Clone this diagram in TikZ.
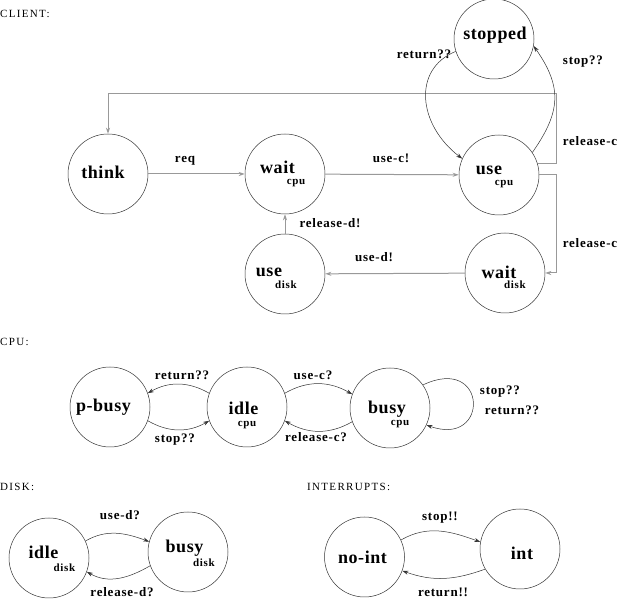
\documentclass[tikz,border=0pt]{standalone}
\usepackage{fontspec}
\setmainfont{Liberation Serif}
\newfontfamily\xf[LetterSpace=6]{Liberation Serif}
\newfontfamily\xb[LetterSpace=3]{Liberation Serif}
\newfontfamily\xh[LetterSpace=12]{Liberation Serif}
\usepackage{tikz}
\usetikzlibrary{arrows.meta, positioning}
\tikzset{%
	state/.style={
		circle,
		draw=black!80,
		line width=0.5pt,
		minimum size=80pt,
		inner sep=0pt
	},
	big/.style={font=\xb\bfseries\fontsize{18}{18}\selectfont, inner sep=0pt},
	sub/.style={font=\xf\bfseries\fontsize{11}{11}\selectfont, inner sep=0pt},
	lbl/.style={font=\xf\bfseries\fontsize{13}{13}\selectfont, inner sep=0pt},
	head/.style={font=\xh\fontsize{11}{11}\selectfont, anchor=west, inner sep=0pt},
	conn/.style={draw=black!40, line width=1pt, -{Stealth[length=6pt,width=4pt]}},
	arc/.style={draw=black!80, line width=0.5pt, -{Stealth[length=6pt,width=4pt]}},
}

\begin{document}
\begin{tikzpicture}[x=1pt, y=1pt]
	\useasboundingbox (0,0) rectangle (619,599);

	% CLIENT
	\node[head] (hclient) at (0,585) {CLIENT:};
	\node[state, label={[big,xshift=-5pt,yshift=2pt]center:think}] (think) at (108,425) {};
	\node[state, label={[big,xshift=-7.5pt,yshift=7pt]center:wait}, label={[sub,xshift=11pt,yshift=-9pt]center:cpu}] (waitc) at (285,425) {};
	\node[state, label={[big,xshift=-10pt,yshift=5pt]center:use}, label={[sub,xshift=5pt,yshift=-9pt]center:cpu}] (usec) at (499,424) {};
	\node[state, label={[big,xshift=1pt,yshift=4pt]center:stopped}] (stopped) at (494,560) {};
	\node[state, label={[big,xshift=-6pt,yshift=1pt]center:wait}, label={[sub,xshift=10pt,yshift=-12pt]center:disk}] (waitd) at (505,326) {};
	\node[state, label={[big,xshift=-16pt,yshift=2pt]center:use}, label={[sub,xshift=1pt,yshift=-11pt]center:disk}] (usd) at (285,325) {};

	\coordinate (top) at (556,505);
	\coordinate (side) at (556,326);

	\draw[conn] (think) -- (waitc);
	\draw[conn] (waitc) -- (usec);
	\draw[conn] (usec.16) -| (top) -| (think.north);
	\draw[conn] (usec.east) -| (side) -- (waitd.east);
	\draw[conn] (waitd) -- (usd);
	\draw[conn] (usd) -- (waitc);
	\draw[arc] (usec.34) to[out=55, in=-55, looseness=1.2] (stopped.-10);
	\draw[arc] (stopped.198) .. controls (412,530) and (418,474) .. (usec.156);

	\node[lbl] (lreq) at (185,438) {req};
	\node[lbl] (lusec) at (391,441) {use-c!};
	\node[lbl] (lrelc1) at (590,458) {release-c};
	\node[lbl] (lrelc2) at (590,356) {release-c};
	\node[lbl] (lreld) at (330,376) {release-d!};
	\node[lbl] (lused) at (374,342) {use-d!};
	\node[lbl] (lstop) at (583,537) {stop??};
	\node[lbl] (lret) at (424,545) {return??};

	% CPU
	\node[head] (hcpu) at (0,257) {CPU:};
	\node[state, label={[big,xshift=-6.5pt]center:p-busy}] (pbusy) at (110,192) {};
	\node[state, label={[big,xshift=-3.5pt,yshift=-1pt]center:idle}, label={[sub,yshift=-18pt]center:cpu}] (idlec) at (247,192) {};
	\node[state, label={[big,xshift=-3pt,yshift=-1pt]center:busy}, label={[sub,xshift=10pt,yshift=-16pt]center:cpu}] (busyc) at (390,191) {};

	\draw[arc] (idlec.160) to[out=150, in=30] (pbusy.20);
	\draw[arc] (pbusy.-20) to[out=-30, in=-150] (idlec.-160);
	\draw[arc] (idlec.20) to[out=30, in=150] (busyc.160);
	\draw[arc] (busyc.-160) to[out=-150, in=-30] (idlec.-20);
	\draw[arc] (busyc.35) .. controls (488,245) and (490,151) .. (busyc.-25);

	\node[lbl] (lret2) at (182,224) {return??};
	\node[lbl] (lstop2) at (175,159) {stop??};
	\node[lbl] (lusec2) at (313,224) {use-c?};
	\node[lbl] (lrelc3) at (316,162) {release-c?};
	\node[lbl] (lstop3) at (500,207) {stop??};
	\node[lbl] (lret3) at (512,189) {return??};

	% DISK
	\node[head] (hdisk) at (0,112) {DISK:};
	\node[state, label={[big,xshift=-5.5pt,yshift=6pt]center:idle}, label={[sub,xshift=15.5pt,yshift=-10pt]center:disk}] (idled) at (49,41) {};
	\node[state, label={[big,xshift=-3.5pt,yshift=4pt]center:busy}, label={[sub,xshift=16pt,yshift=-11pt]center:disk}] (busyd) at (188,47) {};

	\draw[arc] (idled.25) to[out=30, in=160] (busyd.165);
	\draw[arc] (busyd.-160) to[out=-150, in=-30] (idled.-20);

	\node[lbl] (lused2) at (120,84) {use-d?};
	\node[lbl] (lreld2) at (122,7) {release-d?};

	% INTERRUPTS
	\node[head] (hint) at (307,112) {INTERRUPTS:};
	\node[state, label={[big,xshift=-2pt]center:no-int}] (noint) at (364.5,42) {};
	\node[state, label={[big,xshift=2pt,yshift=-4pt]center:int}] (intr) at (520,50) {};

	\draw[arc] (noint.25) to[out=30, in=160] (intr.170);
	\draw[arc] (intr.-150) to[out=-160, in=-20] (noint.-20);

	\node[lbl] (lstop4) at (440,81) {stop!!};
	\node[lbl] (lret4) at (443,7) {return!!};
\end{tikzpicture}
\end{document}
